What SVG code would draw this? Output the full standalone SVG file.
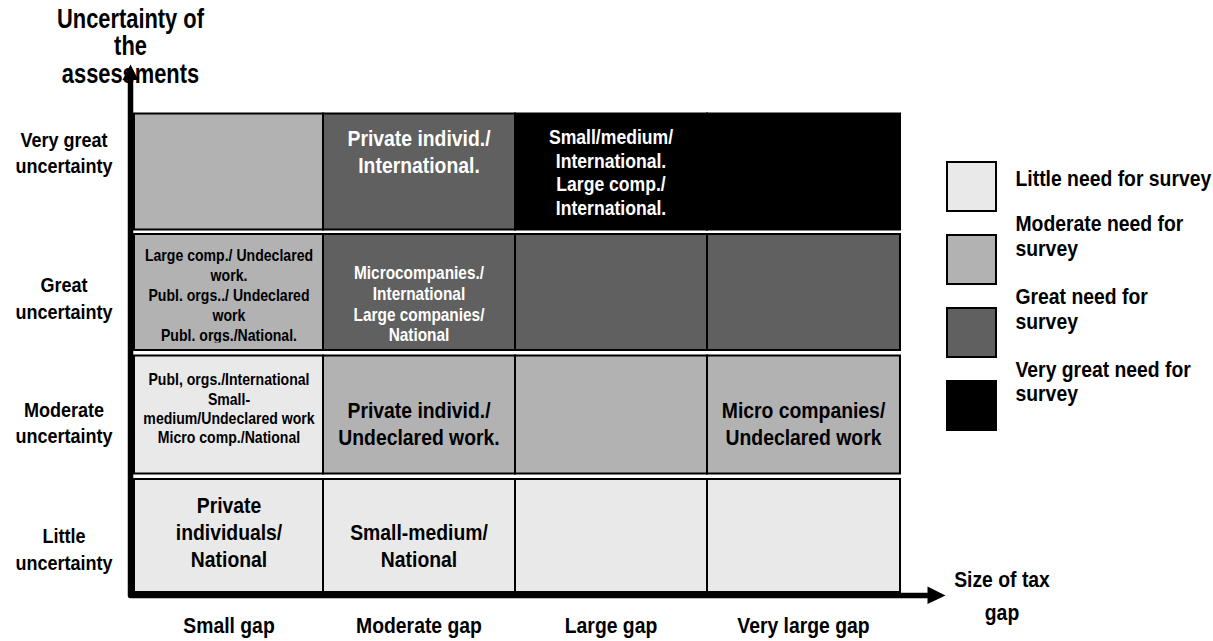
<svg xmlns="http://www.w3.org/2000/svg" width="1213" height="641" viewBox="0 0 1213 641">
<defs>
<style>
text { font-family: "Liberation Sans", Arial, sans-serif; font-weight: bold; fill: #000; }
.c { text-anchor: middle; }
.w { fill: #fff; }
.t { font-size: 27px; }
.big { font-size: 22px; }
.ax { font-size: 20.5px; }
.med { font-size: 20px; }
.sm { font-size: 16px; }
.sm2 { font-size: 17.5px; }
.cell { stroke: #000; stroke-width: 2; }
.l1 { fill: #e9e9e9; }
.l2 { fill: #b2b2b2; }
.l3 { fill: #606060; }
.l4 { fill: #000; }
.axis { stroke: #000; fill: none; }
</style>
<clipPath id="clipR2"><rect x="134" y="234" width="766" height="108.5"/></clipPath>
</defs>
<rect width="1213" height="641" fill="#fff"/>

<g id="title">
<text class="t c" transform="translate(130.5,0) scale(0.81,1)"><tspan x="0" y="28.5">Uncertainty of</tspan><tspan x="0" y="55.5">the</tspan><tspan x="0" y="83">assessments</tspan></text>
</g>

<g id="row-labels">
<text class="ax c" transform="translate(64,0) scale(0.88,1)"><tspan x="0" y="147">Very great</tspan><tspan x="0" y="173.5">uncertainty</tspan></text>
<text class="ax c" transform="translate(64,0) scale(0.88,1)"><tspan x="0" y="292.5">Great</tspan><tspan x="0" y="319.5">uncertainty</tspan></text>
<text class="ax c" transform="translate(64,0) scale(0.88,1)"><tspan x="0" y="417">Moderate</tspan><tspan x="0" y="443.5">uncertainty</tspan></text>
<text class="ax c" transform="translate(64,0) scale(0.88,1)"><tspan x="0" y="543.5">Little</tspan><tspan x="0" y="570">uncertainty</tspan></text>
</g>

<g id="col-labels">
<text class="big c" transform="translate(229,0) scale(0.88,1)" x="0" y="633">Small gap</text>
<text class="big c" transform="translate(419,0) scale(0.88,1)" x="0" y="633">Moderate gap</text>
<text class="big c" transform="translate(611,0) scale(0.88,1)" x="0" y="633">Large gap</text>
<text class="big c" transform="translate(803.5,0) scale(0.88,1)" x="0" y="633">Very large gap</text>
<text class="big c" transform="translate(1002,0) scale(0.88,1)"><tspan x="0" y="587">Size of tax</tspan><tspan x="0" y="620">gap</tspan></text>
</g>

<!-- Row 1: very great uncertainty -->
<g id="r1c1"><rect class="cell l2" x="134" y="113.5" width="189" height="116"/></g>
<g id="r1c2"><rect class="cell l3" x="323" y="113.5" width="192" height="116"/>
<text class="big c w" transform="translate(419,0) scale(0.88,1)"><tspan x="0" y="146">Private individ./</tspan><tspan x="0" y="172.7">International.</tspan></text></g>
<g id="r1c3"><rect class="cell l4" x="515" y="113.5" width="192" height="116"/>
<text class="med c w" transform="translate(611,0) scale(0.88,1)"><tspan x="0" y="144.3">Small/medium/</tspan><tspan x="0" y="167.8">International.</tspan><tspan x="0" y="191.2">Large comp./</tspan><tspan x="0" y="214.6">International.</tspan></text></g>
<g id="r1c4"><rect class="cell l4" x="707" y="113.5" width="193" height="116"/></g>

<!-- Row 2: great uncertainty -->
<g id="r2c1"><rect class="cell l2" x="134" y="234" width="189" height="116"/>
<g clip-path="url(#clipR2)"><text class="sm c" transform="translate(229,0) scale(0.88,1)"><tspan x="0" y="261.5">Large comp./ Undeclared</tspan><tspan x="0" y="281.3">work.</tspan><tspan x="0" y="301">Publ. orgs../ Undeclared</tspan><tspan x="0" y="320.8">work</tspan><tspan x="0" y="340.6">Publ. orgs./National.</tspan></text></g></g>
<g id="r2c2"><rect class="cell l3" x="323" y="234" width="192" height="116"/>
<g clip-path="url(#clipR2)"><text class="sm2 c w" transform="translate(419,0) scale(0.88,1)"><tspan x="0" y="279.3">Microcompanies./</tspan><tspan x="0" y="300">International</tspan><tspan x="0" y="320.7">Large companies/</tspan><tspan x="0" y="341.5">National</tspan></text></g></g>
<g id="r2c3"><rect class="cell l3" x="515" y="234" width="192" height="116"/></g>
<g id="r2c4"><rect class="cell l3" x="707" y="234" width="193" height="116"/></g>

<!-- Row 3: moderate uncertainty -->
<g id="r3c1"><rect class="cell l1" x="134" y="355.5" width="189" height="118"/>
<text class="sm c" transform="translate(229,0) scale(0.88,1)"><tspan x="0" y="385">Publ, orgs./International</tspan><tspan x="0" y="404.6">Small-</tspan><tspan x="0" y="424.2">medium/Undeclared work</tspan><tspan x="0" y="443.5">Micro comp./National</tspan></text></g>
<g id="r3c2"><rect class="cell l2" x="323" y="355.5" width="192" height="118"/>
<text class="big c" transform="translate(419,0) scale(0.88,1)"><tspan x="0" y="418">Private individ./</tspan><tspan x="0" y="445">Undeclared work.</tspan></text></g>
<g id="r3c3"><rect class="cell l2" x="515" y="355.5" width="192" height="118"/></g>
<g id="r3c4"><rect class="cell l2" x="707" y="355.5" width="193" height="118"/>
<text class="big c" transform="translate(803.5,0) scale(0.88,1)"><tspan x="0" y="418">Micro companies/</tspan><tspan x="0" y="445.5">Undeclared work</tspan></text></g>

<!-- Row 4: little uncertainty -->
<g id="r4c1"><rect class="cell l1" x="134" y="479" width="189" height="113"/>
<text class="big c" transform="translate(229,0) scale(0.88,1)"><tspan x="0" y="513">Private</tspan><tspan x="0" y="540">individuals/</tspan><tspan x="0" y="567">National</tspan></text></g>
<g id="r4c2"><rect class="cell l1" x="323" y="479" width="192" height="113"/>
<text class="big c" transform="translate(419,0) scale(0.88,1)"><tspan x="0" y="540">Small-medium/</tspan><tspan x="0" y="567">National</tspan></text></g>
<g id="r4c3"><rect class="cell l1" x="515" y="479" width="192" height="113"/></g>
<g id="r4c4"><rect class="cell l1" x="707" y="479" width="193" height="113"/></g>

<!-- Legend -->
<g id="legend-little"><rect class="cell l1" x="947" y="162" width="49" height="49"/>
<text class="big" transform="translate(1015.5,0) scale(0.88,1)" x="0" y="186">Little need for survey</text></g>
<g id="legend-moderate"><rect class="cell l2" x="947" y="235" width="49" height="49"/>
<text class="big" transform="translate(1015.5,0) scale(0.88,1)"><tspan x="0" y="231">Moderate need for</tspan><tspan x="0" y="256.5">survey</tspan></text></g>
<g id="legend-great"><rect class="cell l3" x="947" y="308" width="49" height="49"/>
<text class="big" transform="translate(1015.5,0) scale(0.88,1)"><tspan x="0" y="304">Great need for</tspan><tspan x="0" y="329">survey</tspan></text></g>
<g id="legend-verygreat"><rect class="cell l4" x="947" y="381" width="49" height="49"/>
<text class="big" transform="translate(1015.5,0) scale(0.88,1)"><tspan x="0" y="377">Very great need for</tspan><tspan x="0" y="401.5">survey</tspan></text></g>

<!-- Axes -->
<g id="connectors">
<path class="axis" d="M130.5,79 V595.5 H929" stroke-width="5.5" stroke-linejoin="round"/>
<polygon points="122.5,80 130.5,64.5 138.5,80" fill="#000"/>
<polygon points="927.5,586.5 945.5,595.5 927.5,604" fill="#000"/>
</g>
</svg>
